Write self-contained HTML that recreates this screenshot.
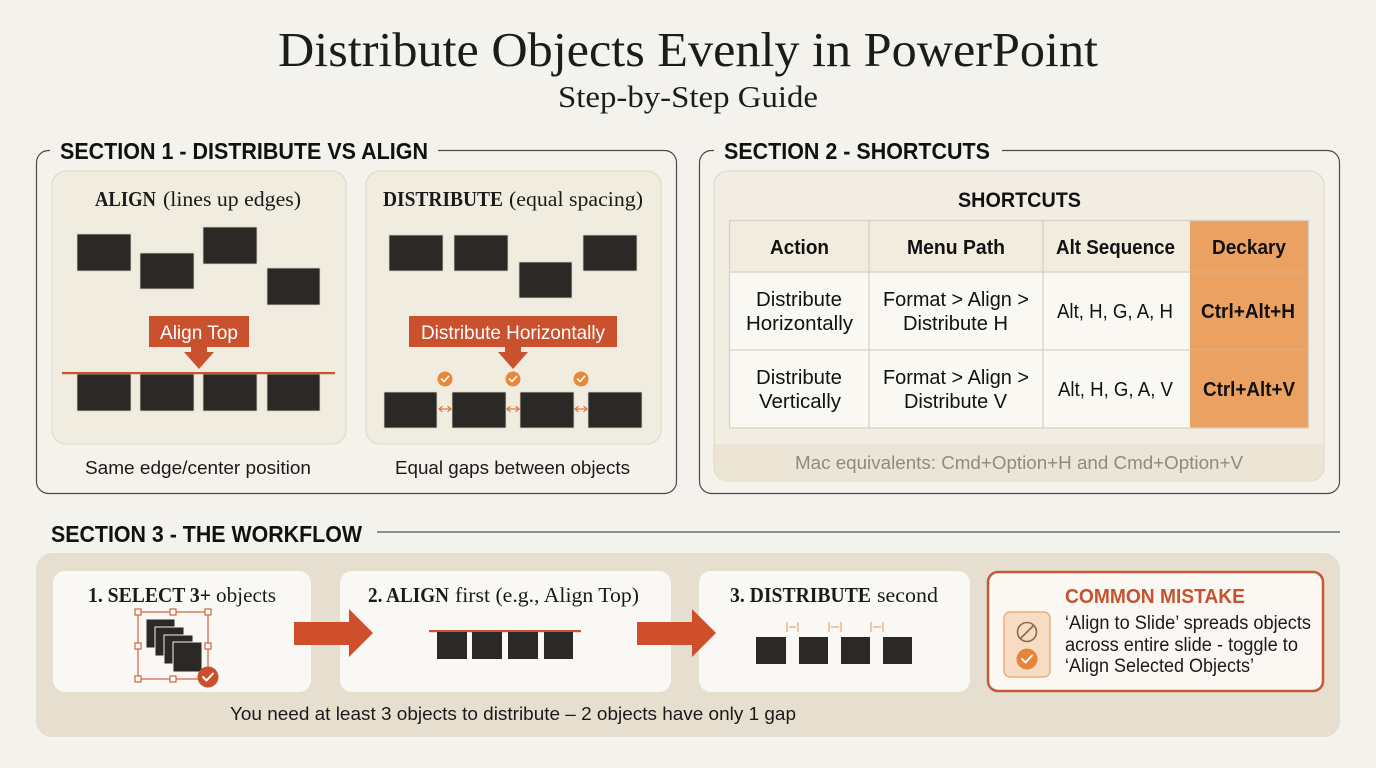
<!DOCTYPE html>
<html><head><meta charset="utf-8">
<style>
html,body{margin:0;padding:0;background:#f4f2ed;}
svg{display:block;}
.serif{font-family:"Liberation Serif",serif;}
.sans{font-family:"Liberation Sans",sans-serif;}
</style></head>
<body>
<svg width="1376" height="768" viewBox="0 0 1376 768" xmlns="http://www.w3.org/2000/svg">
<rect x="0" y="0" width="1376" height="768" fill="#f4f2ed"/>

<!-- Title -->
<text class="serif" x="278" y="66" font-size="49" fill="#1c1c1c" textLength="820" lengthAdjust="spacingAndGlyphs">Distribute Objects Evenly in PowerPoint</text>
<text class="serif" x="558" y="107" font-size="31" fill="#1c1c1c" textLength="260" lengthAdjust="spacingAndGlyphs">Step-by-Step Guide</text>

<!-- SECTION 1 -->
<rect x="36.5" y="150.5" width="640" height="343" rx="12" fill="#f5f2ec" stroke="#4a4a4a" stroke-width="1.2"/>
<rect x="50" y="136" width="388" height="26" fill="#f4f2ed"/>
<text class="sans" x="60" y="159" font-size="23.5" font-weight="bold" fill="#111" textLength="368" lengthAdjust="spacingAndGlyphs">SECTION 1 - DISTRIBUTE VS ALIGN</text>

<rect x="52" y="171" width="294" height="273" rx="14" fill="#f1ece0" stroke="#e2dbcb" stroke-width="1.2"/>
<rect x="366" y="171" width="295" height="273" rx="14" fill="#f1ece0" stroke="#e2dbcb" stroke-width="1.2"/>

<text class="serif" x="95" y="206" font-size="21" font-weight="bold" fill="#1a1a1a" textLength="61" lengthAdjust="spacingAndGlyphs">ALIGN</text>
<text class="serif" x="163" y="206" font-size="21" fill="#1a1a1a" textLength="138" lengthAdjust="spacingAndGlyphs">(lines up edges)</text>
<text class="serif" x="383" y="206" font-size="21" font-weight="bold" fill="#1a1a1a" textLength="120" lengthAdjust="spacingAndGlyphs">DISTRIBUTE</text>
<text class="serif" x="509" y="206" font-size="21" fill="#1a1a1a" textLength="134" lengthAdjust="spacingAndGlyphs">(equal spacing)</text>

<g fill="#2b2925" stroke="#d9d3c6" stroke-width="0.8">
  <rect x="77" y="234" width="54" height="37"/>
  <rect x="140" y="253" width="54" height="36"/>
  <rect x="203" y="227" width="54" height="37"/>
  <rect x="267" y="268" width="53" height="37"/>
  <rect x="77" y="374" width="54" height="37"/>
  <rect x="140" y="374" width="54" height="37"/>
  <rect x="203" y="374" width="54" height="37"/>
  <rect x="267" y="374" width="53" height="37"/>

  <rect x="389" y="235" width="54" height="36"/>
  <rect x="454" y="235" width="54" height="36"/>
  <rect x="519" y="262" width="53" height="36"/>
  <rect x="583" y="235" width="54" height="36"/>
  <rect x="384" y="392" width="53" height="36"/>
  <rect x="452" y="392" width="54" height="36"/>
  <rect x="520" y="392" width="54" height="36"/>
  <rect x="588" y="392" width="54" height="36"/>
</g>
<rect x="62" y="372" width="273" height="2.2" fill="#c9512d"/>

<!-- Align Top label -->
<rect x="149" y="316" width="100" height="31" fill="#c9512d"/>
<polygon points="191,346 207,346 207,352 214,352 199,369 184,352 191,352" fill="#c9512d"/>
<text class="sans" x="160" y="339" font-size="19.5" fill="#fff" textLength="78" lengthAdjust="spacingAndGlyphs">Align Top</text>

<!-- Distribute label -->
<rect x="409" y="316" width="208" height="31" fill="#c9512d"/>
<polygon points="505,346 521,346 521,352 528,352 513,369 498,352 505,352" fill="#c9512d"/>
<text class="sans" x="421" y="339" font-size="19.5" fill="#fff" textLength="184" lengthAdjust="spacingAndGlyphs">Distribute Horizontally</text>

<!-- checks -->
<g>
  <circle cx="445" cy="379" r="7.5" fill="#e8893a"/>
  <circle cx="513" cy="379" r="7.5" fill="#e8893a"/>
  <circle cx="581" cy="379" r="7.5" fill="#e8893a"/>
  <g fill="none" stroke="#fff" stroke-width="1.6" stroke-linecap="round" stroke-linejoin="round">
    <polyline points="441.5,379 444,381.5 448.5,376.5"/>
    <polyline points="509.5,379 512,381.5 516.5,376.5"/>
    <polyline points="577.5,379 580,381.5 584.5,376.5"/>
  </g>
</g>
<!-- double arrows -->
<g stroke="#e07a45" stroke-width="1.3" fill="none" stroke-linecap="round">
  <line x1="439" y1="409" x2="451" y2="409"/>
  <polyline points="442,406.5 439,409 442,411.5"/><polyline points="448,406.5 451,409 448,411.5"/>
  <line x1="507" y1="409" x2="519" y2="409"/>
  <polyline points="510,406.5 507,409 510,411.5"/><polyline points="516,406.5 519,409 516,411.5"/>
  <line x1="575" y1="409" x2="587" y2="409"/>
  <polyline points="578,406.5 575,409 578,411.5"/><polyline points="584,406.5 587,409 584,411.5"/>
</g>

<text class="sans" x="85" y="474" font-size="18.5" fill="#1a1a1a" textLength="226" lengthAdjust="spacingAndGlyphs">Same edge/center position</text>
<text class="sans" x="395" y="474" font-size="18.5" fill="#1a1a1a" textLength="235" lengthAdjust="spacingAndGlyphs">Equal gaps between objects</text>

<!-- SECTION 2 -->
<rect x="699.5" y="150.5" width="640" height="343" rx="12" fill="#f5f2ec" stroke="#4a4a4a" stroke-width="1.2"/>
<rect x="714" y="136" width="288" height="26" fill="#f4f2ed"/>
<text class="sans" x="724" y="159" font-size="23.5" font-weight="bold" fill="#111" textLength="266" lengthAdjust="spacingAndGlyphs">SECTION 2 - SHORTCUTS</text>

<rect x="714" y="171" width="610" height="310" rx="14" fill="#f2ede3" stroke="#e2dbcc" stroke-width="1.2"/>
<path d="M714.6,444 H1323.4 V467 a14,14 0 0 1 -14,14 H728.6 a14,14 0 0 1 -14,-14 Z" fill="#ece5d6"/>
<text class="sans" x="795" y="469" font-size="18.5" fill="#8e8a84" textLength="448" lengthAdjust="spacingAndGlyphs">Mac equivalents: Cmd+Option+H and Cmd+Option+V</text>

<text class="sans" x="958" y="207" font-size="21" font-weight="bold" fill="#111" textLength="123" lengthAdjust="spacingAndGlyphs">SHORTCUTS</text>

<!-- table -->
<rect x="729" y="220" width="461" height="52" fill="#f2ecdf"/>
<rect x="729" y="272" width="461" height="156" fill="#faf8f3"/>
<rect x="1190" y="220" width="119" height="208" fill="#eaa161"/>
<g stroke="#d8d1c3" stroke-width="1.3" fill="none">
  <rect x="729.5" y="220.5" width="579" height="207.5"/>
  <line x1="869" y1="220" x2="869" y2="428"/>
  <line x1="1043" y1="220" x2="1043" y2="428"/>
  <line x1="729" y1="272" x2="1190" y2="272"/>
  <line x1="729" y1="350" x2="1190" y2="350"/>
</g>
<g stroke="#e3ad7c" stroke-width="1.2">
  <line x1="1190" y1="272" x2="1309" y2="272"/>
  <line x1="1190" y1="350" x2="1309" y2="350"/>
</g>
<g class="sans" font-size="20" fill="#111">
  <text x="770" y="254" font-weight="bold" textLength="59" lengthAdjust="spacingAndGlyphs">Action</text>
  <text x="907" y="254" font-weight="bold" textLength="98" lengthAdjust="spacingAndGlyphs">Menu Path</text>
  <text x="1056" y="254" font-weight="bold" textLength="119" lengthAdjust="spacingAndGlyphs">Alt Sequence</text>
  <text x="1212" y="254" font-weight="bold" textLength="74" lengthAdjust="spacingAndGlyphs">Deckary</text>

  <text x="756" y="306" textLength="86" lengthAdjust="spacingAndGlyphs">Distribute</text>
  <text x="746" y="330" textLength="107" lengthAdjust="spacingAndGlyphs">Horizontally</text>
  <text x="883" y="306" textLength="146" lengthAdjust="spacingAndGlyphs">Format &gt; Align &gt;</text>
  <text x="903" y="330" textLength="105" lengthAdjust="spacingAndGlyphs">Distribute H</text>
  <text x="1057" y="318" textLength="116" lengthAdjust="spacingAndGlyphs">Alt, H, G, A, H</text>
  <text x="1201" y="318" font-weight="bold" textLength="94" lengthAdjust="spacingAndGlyphs">Ctrl+Alt+H</text>

  <text x="756" y="384" textLength="86" lengthAdjust="spacingAndGlyphs">Distribute</text>
  <text x="759" y="408" textLength="82" lengthAdjust="spacingAndGlyphs">Vertically</text>
  <text x="883" y="384" textLength="146" lengthAdjust="spacingAndGlyphs">Format &gt; Align &gt;</text>
  <text x="904" y="408" textLength="103" lengthAdjust="spacingAndGlyphs">Distribute V</text>
  <text x="1058" y="396" textLength="115" lengthAdjust="spacingAndGlyphs">Alt, H, G, A, V</text>
  <text x="1203" y="396" font-weight="bold" textLength="92" lengthAdjust="spacingAndGlyphs">Ctrl+Alt+V</text>
</g>

<!-- SECTION 3 -->
<text class="sans" x="51" y="542" font-size="23.5" font-weight="bold" fill="#111" textLength="311" lengthAdjust="spacingAndGlyphs">SECTION 3 - THE WORKFLOW</text>
<line x1="377" y1="532" x2="1340" y2="532" stroke="#555" stroke-width="1.2"/>

<rect x="36" y="553" width="1304" height="184" rx="16" fill="#e6dfd0"/>

<rect x="53" y="571" width="258" height="121" rx="12" fill="#faf8f4"/>
<rect x="340" y="571" width="331" height="121" rx="12" fill="#faf8f4"/>
<rect x="699" y="571" width="271" height="121" rx="12" fill="#faf8f4"/>

<!-- arrows -->
<polygon points="294,622 349,622 349,609 373,633 349,657 349,645 294,645" fill="#cf4f2a"/>
<polygon points="637,622 692,622 692,609 716,633 692,657 692,645 637,645" fill="#cf4f2a"/>

<!-- card1 -->
<text class="serif" x="88" y="602" font-size="21.5" font-weight="bold" fill="#1a1a1a" textLength="123" lengthAdjust="spacingAndGlyphs">1. SELECT 3+</text>
<text class="serif" x="216" y="602" font-size="21.5" fill="#1a1a1a" textLength="60" lengthAdjust="spacingAndGlyphs">objects</text>
<rect x="138" y="612" width="70" height="67" fill="none" stroke="#d0623c" stroke-width="1.2"/>
<g fill="#2b2925" stroke="#f5f2ec" stroke-width="1">
  <rect x="146" y="619" width="29" height="29"/>
  <rect x="155" y="627" width="29" height="29"/>
  <rect x="164" y="635" width="29" height="29"/>
  <rect x="173" y="642" width="29" height="30"/>
</g>
<g fill="#fff" stroke="#d0623c" stroke-width="1.2">
  <rect x="135" y="609" width="6" height="6"/>
  <rect x="170" y="609" width="6" height="6"/>
  <rect x="205" y="609" width="6" height="6"/>
  <rect x="135" y="643" width="6" height="6"/>
  <rect x="205" y="643" width="6" height="6"/>
  <rect x="135" y="676" width="6" height="6"/>
  <rect x="170" y="676" width="6" height="6"/>
</g>
<circle cx="208" cy="677" r="10.5" fill="#c8502c"/>
<polyline points="203,677 206.5,680.5 213,673.5" fill="none" stroke="#fff" stroke-width="2" stroke-linecap="round" stroke-linejoin="round"/>

<!-- card2 -->
<text class="serif" x="368" y="602" font-size="21.5" font-weight="bold" fill="#1a1a1a" textLength="81" lengthAdjust="spacingAndGlyphs">2. ALIGN</text>
<text class="serif" x="455" y="602" font-size="21.5" fill="#1a1a1a" textLength="184" lengthAdjust="spacingAndGlyphs">first (e.g., Align Top)</text>
<rect x="429" y="630" width="152" height="2.2" fill="#c9512d"/>
<g fill="#2b2925">
  <rect x="437" y="632" width="30" height="27"/>
  <rect x="472" y="632" width="30" height="27"/>
  <rect x="508" y="632" width="30" height="27"/>
  <rect x="544" y="632" width="29" height="27"/>
</g>

<!-- card3 -->
<text class="serif" x="730" y="602" font-size="21.5" font-weight="bold" fill="#1a1a1a" textLength="141" lengthAdjust="spacingAndGlyphs">3. DISTRIBUTE</text>
<text class="serif" x="877" y="602" font-size="21.5" fill="#1a1a1a" textLength="61" lengthAdjust="spacingAndGlyphs">second</text>
<g fill="#2b2925">
  <rect x="756" y="637" width="30" height="27"/>
  <rect x="799" y="637" width="29" height="27"/>
  <rect x="841" y="637" width="29" height="27"/>
  <rect x="883" y="637" width="29" height="27"/>
</g>
<g stroke="#e89455" stroke-width="1" fill="none">
  <line x1="787" y1="622" x2="787" y2="632"/><line x1="798" y1="622" x2="798" y2="632"/>
  <line x1="789" y1="627" x2="796" y2="627"/>
  <line x1="829" y1="622" x2="829" y2="632"/><line x1="841" y1="622" x2="841" y2="632"/>
  <line x1="831" y1="627" x2="839" y2="627"/>
  <line x1="871" y1="622" x2="871" y2="632"/><line x1="883" y1="622" x2="883" y2="632"/>
  <line x1="873" y1="627" x2="881" y2="627"/>
</g>

<!-- common mistake -->
<rect x="988" y="572" width="335" height="119" rx="10" fill="#fbf8f3" stroke="#c45a35" stroke-width="2.5"/>
<rect x="1004" y="612" width="46" height="65" rx="6" fill="#f6dcc2" stroke="#e7a26c" stroke-width="1.2"/>
<circle cx="1027" cy="632" r="9.5" fill="none" stroke="#8e6652" stroke-width="1.6"/>
<line x1="1020.5" y1="638.5" x2="1033.5" y2="625.5" stroke="#8e6652" stroke-width="1.6"/>
<circle cx="1027" cy="659" r="10.5" fill="#e8843a"/>
<polyline points="1022,659 1025.5,662.5 1032,655.5" fill="none" stroke="#fff" stroke-width="1.9" stroke-linecap="round" stroke-linejoin="round"/>
<text class="sans" x="1065" y="603" font-size="20" font-weight="bold" fill="#c4532f" textLength="180" lengthAdjust="spacingAndGlyphs">COMMON MISTAKE</text>
<g class="sans" font-size="19" fill="#1a1a1a">
  <text x="1065" y="629" textLength="246" lengthAdjust="spacingAndGlyphs">‘Align to Slide’ spreads objects</text>
  <text x="1065" y="651" textLength="233" lengthAdjust="spacingAndGlyphs">across entire slide - toggle to</text>
  <text x="1065" y="672" textLength="189" lengthAdjust="spacingAndGlyphs">‘Align Selected Objects’</text>
</g>

<text class="sans" x="230" y="720" font-size="18.5" fill="#1a1a1a" textLength="566" lengthAdjust="spacingAndGlyphs">You need at least 3 objects to distribute – 2 objects have only 1 gap</text>
</svg>
</body></html>
